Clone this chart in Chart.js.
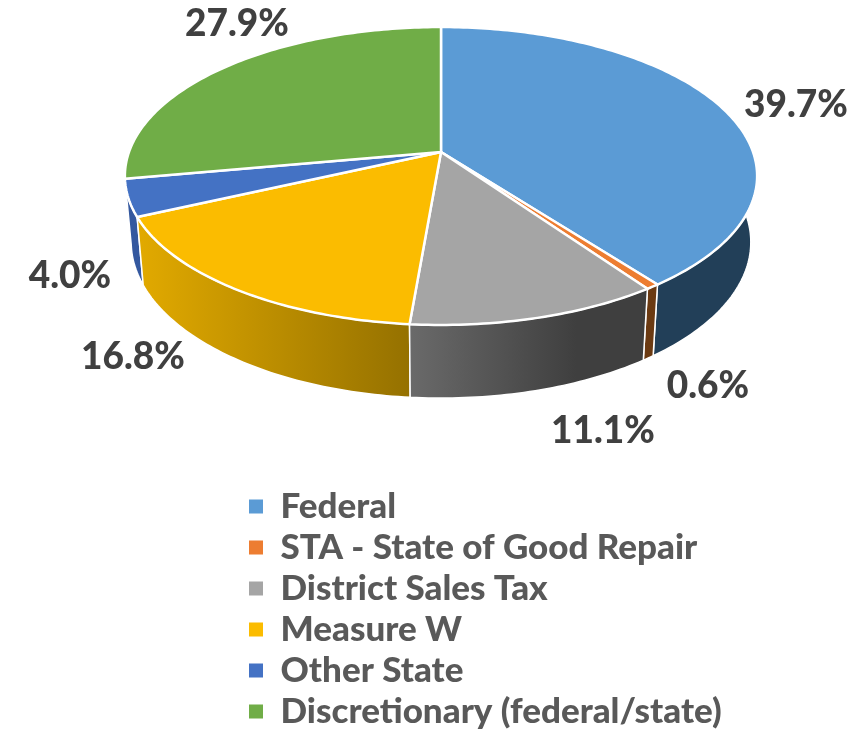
<!DOCTYPE html>
<html>
<head>
<meta charset="utf-8">
<title>Funding sources</title>
<script src="https://cdn.jsdelivr.net/npm/chart.js@4"></script>
<style>
    html, body { margin: 0; padding: 0; background: #fff; }
    canvas { display: block; }
</style>
</head>
<body>
<canvas id="myChart" width="868" height="731"></canvas>
<script>
// Chart data
const categories = ['Federal', 'STA - State of Good Repair', 'District Sales Tax', 'Measure W', 'Other State', 'Discretionary (federal/state)'];
const shares = [39.7, 0.6, 11.1, 16.8, 4.0, 27.9];

// Slice colors: top face, then side wall left and right of its gradient
const topColors = ['#5B9BD5', '#ED7D31', '#A5A5A5', '#FBBC00', '#4472C4', '#70AD47'];
const wallLeft = ['#223F58', '#6B3A12', '#6A6A6A', '#E2AA00', '#34589F', '#43682B'];
const wallRight = ['#223F58', '#6B3A12', '#3F3F3F', '#957100', '#34589F', '#43682B'];
// Where the gradient reaches its right color
const wallEnd = [1, 1, 0.7, 1, 1, 1];

// Text centers of the value labels
const labelCenters = [[796, 105], [708, 386], [603, 431], [133, 357], [70, 276], [237, 24]];

// Perspective of the tilted pie
const view = {x: 441, y: 152, a: 312, b: 145.1, k: 0.161, depth: 65, stretch: 1.047, shrink: 0.98};

function project(angle, bottom) {
    const w = 1 - view.k * Math.sin(angle);
    const dx = view.a * Math.cos(angle) / w;
    const dy = view.b * Math.sin(angle) / w;
    if (bottom) {
        return [view.x + dx * view.shrink, view.y + view.depth + dy * view.stretch];
    }
    return [view.x + dx, view.y + dy];
}

function arcPoints(start, end, bottom) {
    const points = [];
    const steps = Math.max(4, Math.ceil((end - start) * 60));
    for (let i = 0; i <= steps; i++) {
        points.push(project(start + (end - start) * i / steps, bottom));
    }
    return points;
}

function tracePath(ctx, points) {
    ctx.beginPath();
    points.forEach((p, i) => i ? ctx.lineTo(p[0], p[1]) : ctx.moveTo(p[0], p[1]));
    ctx.closePath();
}

// Draws the arcs the library worked out as a tilted 3D pie
const tiltedPie = {
    id: 'tiltedPie',
    afterLayout(chart) {
        // Move the legend under the pie
        const legend = chart.legend;
        legend.left = 243;
        legend.right = 243 + legend.width;
        legend.top = 483;
        legend.bottom = 483 + legend.height;
    },
    beforeDatasetDraw(chart, args) {
        const ctx = chart.ctx;
        const arcs = chart.getDatasetMeta(args.index).data;
        ctx.save();
        ctx.lineJoin = 'round';
        ctx.strokeStyle = '#fff';

        // side walls first, back to front, the top faces cover their hidden parts
        const midY = arc => Math.sin((arc.startAngle + arc.endAngle) / 2);
        const order = arcs.map((arc, i) => i).sort((a, b) => midY(arcs[a]) - midY(arcs[b]));
        order.forEach(i => {
            const arc = arcs[i];
            const top = arcPoints(arc.startAngle, arc.endAngle, false);
            const bottom = arcPoints(arc.startAngle, arc.endAngle, true).reverse();
            const xs = top.map(p => p[0]);
            const gradient = ctx.createLinearGradient(Math.min(...xs), 0, Math.max(...xs), 0);
            gradient.addColorStop(0, wallLeft[i]);
            gradient.addColorStop(wallEnd[i], wallRight[i]);
            gradient.addColorStop(1, wallRight[i]);
            tracePath(ctx, top.concat(bottom));
            ctx.fillStyle = gradient;
            ctx.fill();
            ctx.lineWidth = 1.5;
            ctx.stroke();
        });

        arcs.forEach((arc, i) => {
            tracePath(ctx, [[view.x, view.y]].concat(arcPoints(arc.startAngle, arc.endAngle, false)));
            ctx.fillStyle = topColors[i];
            ctx.fill();
            ctx.lineWidth = 2.5;
            ctx.stroke();
        });
        ctx.restore();
        return false;
    },
    afterDatasetsDraw(chart) {
        const ctx = chart.ctx;
        ctx.save();
        ctx.font = '900 37px Lato';
        ctx.fillStyle = '#404040';
        ctx.textAlign = 'center';
        ctx.textBaseline = 'middle';
        shares.forEach((share, i) => {
            ctx.fillText(share.toFixed(1) + '%', labelCenters[i][0], labelCenters[i][1]);
        });
        ctx.restore();
    }
};

new Chart(document.getElementById('myChart'), {
    type: 'pie',
    data: {
        labels: categories,
        datasets: [{
            data: shares,
            backgroundColor: topColors,
            borderWidth: 0
        }]
    },
    options: {
        responsive: false,
        animation: false,
        events: [],
        layout: {padding: 0},
        plugins: {
            tooltip: {enabled: false},
            legend: {
                position: 'left',
                align: 'start',
                maxWidth: 620,
                labels: {
                    boxWidth: 14,
                    boxHeight: 14,
                    padding: 6,
                    color: '#595959',
                    font: {family: 'Lato', size: 35, weight: 900}
                }
            }
        }
    },
    plugins: [tiltedPie]
});
</script>
</body>
</html>
